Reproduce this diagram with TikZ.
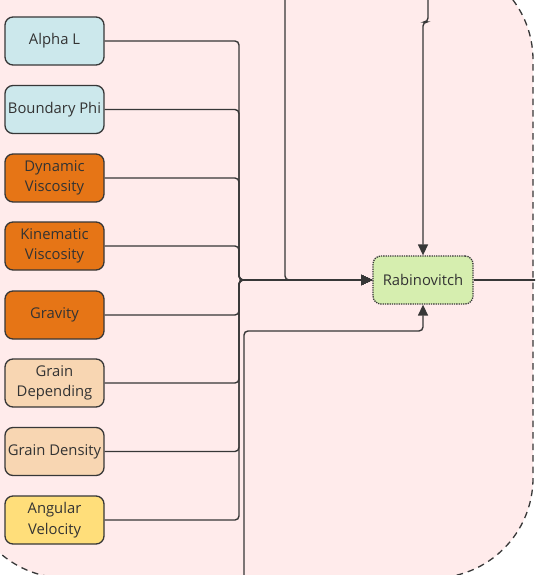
\documentclass[tikz,border=0pt]{standalone}
\usepackage{fontspec}
\setmainfont{Open Sans}
\usetikzlibrary{positioning,arrows.meta}

\definecolor{groupbg}{RGB}{255,235,235}
\definecolor{linegray}{RGB}{55,55,55}
\definecolor{textgray}{RGB}{51,51,51}
\definecolor{bluebox}{RGB}{204,232,236}
\definecolor{orangebox}{RGB}{230,117,22}
\definecolor{peachbox}{RGB}{248,214,178}
\definecolor{yellowbox}{RGB}{255,222,122}
\definecolor{greenbox}{RGB}{214,238,175}

\tikzset{
    param/.style={draw=linegray, line width=1.3pt, rounded corners=8pt,
        minimum width=99pt, minimum height=48pt, inner sep=1pt,
        align=center, text=textgray, font=\fontsize{14.8}{20.5}\selectfont},
    conn/.style={draw=linegray, line width=1.4pt, rounded corners=4pt},
    tip/.style={-{Triangle[length=11pt,width=10pt]}}
}

\begin{document}
\begin{tikzpicture}[x=1pt, y=-1pt]
        \useasboundingbox (0,0) rectangle (535,575);
        \clip (0,0) rectangle (535,575);

        % Group
        \draw[fill=groupbg, draw=linegray, line width=1.3pt, dash pattern=on 6.5pt off 5pt,
            rounded corners=100pt] (-34,-40) rectangle (533,578);

        % Blocks
        \node[param, fill=bluebox] (alphal) at (54.5,41) {Alpha L};
        \node[param, fill=bluebox] (boundphi) at (54.5,109.5) {Boundary Phi};
        \node[param, fill=orangebox] (dynvisc) at (54.5,178) {Dynamic\\Viscosity};
        \node[param, fill=orangebox] (kinvisc) at (54.5,246) {Kinematic\\Viscosity};
        \node[param, fill=orangebox] (gravity) at (54.5,315) {Gravity};
        \node[param, fill=peachbox] (graindep) at (54.5,383) {Grain\\Depending};
        \node[param, fill=peachbox] (graindens) at (54.5,451.5) {Grain Density};
        \node[param, fill=yellowbox] (angvel) at (54.5,520) {Angular\\Velocity};
        \node[param, fill=greenbox, densely dotted, minimum width=100pt] (rab) at (423,280) {Rabinovitch};

        \coordinate (bus) at (239,280);
        \coordinate (topa) at (285,-5);
        \coordinate (topb) at (428,-5);
        \coordinate (bottomin) at (244,580);
        \coordinate (lowbend) at (244,331);
        \coordinate (rightout) at (540,280);

        % Arrows
        \foreach \n in {alphal, boundphi, dynvisc, kinvisc, gravity, graindep, graindens, angvel}
            \draw[conn, tip] (\n.east) -| (bus) -- (rab.west);
        \draw[conn, tip] (topa) |- (rab.west);
        \draw[conn, tip] (topb) -- ++(0,27) -| (rab.north);
        \draw[conn, tip] (bottomin) -- (lowbend) -| (rab.south);
        \draw[conn] (rab.east) -- (rightout);
    \end{tikzpicture}
\end{document}
